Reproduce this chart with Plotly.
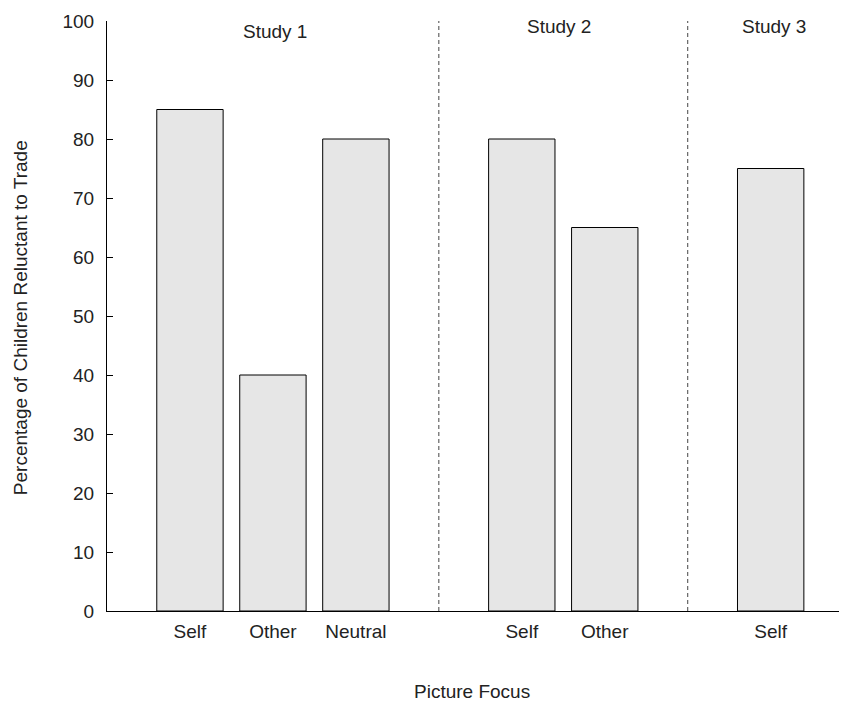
import plotly.graph_objects as go

categories = ["Self", "Other", "Neutral", "Self", "Other", "Self"]
positions = [0, 1, 2, 4, 5, 7]
values = [85, 40, 80, 80, 65, 75]
study_labels = ["Study 1", "Study 2", "Study 3"]
study_pos = [1.02, 4.45, 7.04]
study_y = [98.3, 99.0, 99.0]
separators = [3, 6]
y_ticks = list(range(0, 101, 10))

FONT = "Liberation Sans, Arial, sans-serif"
FS = 19
COL = "#222"

fig = go.Figure()
fig.add_trace(go.Bar(
    x=positions, y=values, width=0.8,
    marker=dict(color="#e6e6e6", line=dict(color="black", width=1)),
    showlegend=False, hoverinfo="y",
))

for s in separators:
    fig.add_shape(type="line", x0=s, x1=s, y0=0, y1=100, xref="x", yref="y",
                  line=dict(color="#444", width=1, dash="4px,3px"))

for lab, px, py in zip(study_labels, study_pos, study_y):
    fig.add_annotation(x=px, y=py, xref="x", yref="y", text=lab, showarrow=False,
                       font=dict(family=FONT, size=FS, color=COL))

# axis titles
fig.add_annotation(x=-0.1176, y=0.498, xref="paper", yref="paper",
                   text="Percentage of Children Reluctant to Trade", textangle=-90,
                   showarrow=False, xanchor="center", yanchor="middle",
                   font=dict(family=FONT, size=FS, color=COL))
fig.add_annotation(x=0.493, y=-0.137, xref="paper", yref="paper",
                   text="Picture Focus", showarrow=False,
                   xanchor="center", yanchor="middle",
                   font=dict(family=FONT, size=FS, color=COL))

fig.update_layout(
    width=839, height=694,
    margin=dict(l=99, r=0, t=13, b=91, autoexpand=False),
    paper_bgcolor="white", plot_bgcolor="white",
    font=dict(family=FONT, size=FS, color=COL),
    xaxis=dict(range=[-1, 7.92], tickvals=positions, ticktext=categories,
               showline=True, linecolor="black", linewidth=1, showgrid=False,
               zeroline=False, ticks="", ticklabelstandoff=3),
    yaxis=dict(range=[0, 100], tickvals=y_ticks, showline=True, linecolor="black",
               linewidth=1, showgrid=False, zeroline=False, ticks="inside",
               ticklen=6, tickcolor="black", ticklabelstandoff=8),
)

fig.write_html("out.html")
